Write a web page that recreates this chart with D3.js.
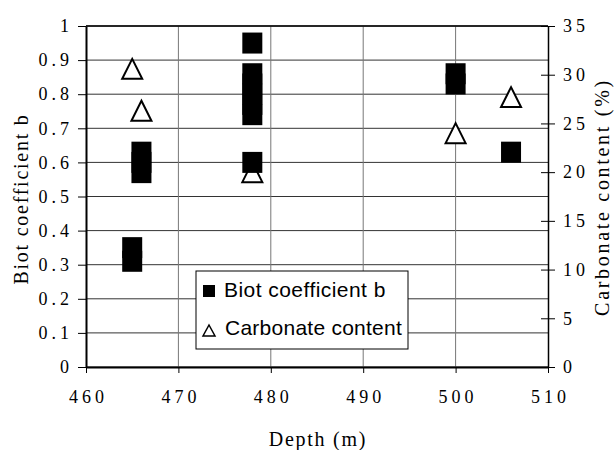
<!DOCTYPE html>
<html>
<head>
<meta charset="utf-8">
<script src="https://cdn.jsdelivr.net/npm/d3@7"></script>
<style>
  body { margin: 0; background: #fff; }
  svg text.serif { font-family: "Liberation Serif", "Times New Roman", serif; }
  svg text.sans { font-family: "Liberation Sans", Arial, sans-serif; }
</style>
</head>
<body>
<div class="chart"></div>
<script>
// Biot coefficient b (left axis) vs depth
var biotDepth = [465, 465, 466, 466, 466, 478, 478, 478, 478, 478, 478, 478, 500, 500, 506];
var biotValue = [0.35, 0.31, 0.63, 0.60, 0.57, 0.95, 0.86, 0.83, 0.80, 0.77, 0.74, 0.60, 0.86, 0.83, 0.63];

// Carbonate content % (right axis) vs depth
var carbDepth = [465, 466, 478, 500, 506];
var carbValue = [30.6, 26.3, 20.0, 24.0, 27.7];

var xTicks = [460, 470, 480, 490, 500, 510];
var yLeftTicks = [0, 0.1, 0.2, 0.3, 0.4, 0.5, 0.6, 0.7, 0.8, 0.9, 1];
var yRightTicks = [0, 5, 10, 15, 20, 25, 30, 35];

var svgWidth = 615, svgHeight = 450;
var margin = { top: 26, right: 67, bottom: 83, left: 86 };
var width = svgWidth - margin.left - margin.right;
var height = svgHeight - margin.top - margin.bottom;

var svg = d3.select(".chart").append("svg")
    .attr("width", svgWidth)
    .attr("height", svgHeight);

var chart = svg.append("g")
    .attr("transform", "translate(" + margin.left + "," + margin.top + ")");

var xScale = d3.scaleLinear().domain([460, 510]).range([0, width]);
var yLeft = d3.scaleLinear().domain([0, 1]).range([height, 0]);
var yRight = d3.scaleLinear().domain([0, 35]).range([height, 0]);

// horizontal grid lines
chart.append("g").selectAll("line")
    .data(yLeftTicks)
    .enter().append("line")
    .attr("x1", 0).attr("x2", width)
    .attr("y1", function(d) { return yLeft(d); })
    .attr("y2", function(d) { return yLeft(d); })
    .attr("stroke", "#333").attr("stroke-width", 1);

// vertical grid lines
chart.append("g").selectAll("line")
    .data(xTicks.slice(1, -1))
    .enter().append("line")
    .attr("x1", function(d) { return xScale(d); })
    .attr("x2", function(d) { return xScale(d); })
    .attr("y1", 0).attr("y2", height)
    .attr("stroke", "#777").attr("stroke-width", 1);

// top border
chart.append("line")
    .attr("x1", 0).attr("x2", width).attr("y1", 0).attr("y2", 0)
    .attr("stroke", "#000").attr("stroke-width", 1.5);

// axes
var bottomAxis = d3.axisBottom(xScale).tickValues(xTicks).tickFormat(d3.format("d"))
    .tickSizeInner(6).tickSizeOuter(0).tickPadding(17);
var leftAxis = d3.axisLeft(yLeft).tickValues(yLeftTicks).tickFormat(function(d) { return String(d); })
    .tickSizeInner(8).tickSizeOuter(0).tickPadding(5);
var rightAxis = d3.axisRight(yRight).tickValues(yRightTicks).tickFormat(d3.format("d"))
    .tickSizeInner(7).tickSizeOuter(0).tickPadding(8);

function styleAxis(g) {
    g.attr("font-family", null).attr("font-size", null);
    g.selectAll(".tick text")
        .attr("class", "serif")
        .style("font-size", "18px")
        .style("letter-spacing", "4px")
        .attr("fill", "#000");
    g.selectAll(".tick line").attr("stroke", "#000");
}

var gx = chart.append("g")
    .attr("transform", "translate(0," + height + ")")
    .call(bottomAxis)
    .call(styleAxis);
gx.select(".domain").attr("stroke-width", 2);
gx.selectAll(".tick text").attr("dx", 2);

var gl = chart.append("g").call(leftAxis).call(styleAxis);
gl.select(".domain").attr("stroke-width", 2);

var gr = chart.append("g")
    .attr("transform", "translate(" + width + ",0)")
    .call(rightAxis)
    .call(styleAxis);
gr.select(".domain").attr("stroke-width", 1.5);
gr.selectAll(".tick line").attr("x1", -7);

// carbonate content triangles (white filled)
chart.append("g").selectAll("path")
    .data(carbDepth)
    .enter().append("path")
    .attr("d", "M0,-10L10,10L-10,10Z")
    .attr("transform", function(d, i) {
        return "translate(" + xScale(d) + "," + yRight(carbValue[i]) + ")";
    })
    .attr("fill", "#fff")
    .attr("stroke", "#000")
    .attr("stroke-width", 2);

// biot coefficient squares
chart.append("g").selectAll("rect")
    .data(biotDepth)
    .enter().append("rect")
    .attr("x", function(d) { return xScale(d) - 10; })
    .attr("y", function(d, i) { return yLeft(biotValue[i]) - 10.5; })
    .attr("width", 20)
    .attr("height", 21)
    .attr("fill", "#000");

// axis titles
svg.append("text")
    .attr("class", "serif")
    .attr("transform", "translate(28,199) rotate(-90)")
    .attr("text-anchor", "middle")
    .style("font-size", "20px")
    .style("letter-spacing", "1.75px")
    .text("Biot coefficient b");

svg.append("text")
    .attr("class", "serif")
    .attr("transform", "translate(609,197) rotate(-90)")
    .attr("text-anchor", "middle")
    .style("font-size", "20px")
    .style("letter-spacing", "2.7px")
    .text("Carbonate content (%)");

svg.append("text")
    .attr("class", "serif")
    .attr("x", margin.left + width / 2 + 1)
    .attr("y", 446)
    .attr("text-anchor", "middle")
    .style("font-size", "20px")
    .style("letter-spacing", "1.75px")
    .text("Depth (m)");

// legend
var legend = svg.append("g").attr("transform", "translate(196,271)");
legend.append("rect")
    .attr("width", 212).attr("height", 78)
    .attr("fill", "#fff").attr("stroke", "#000").attr("stroke-width", 1);
legend.append("rect")
    .attr("x", 7).attr("y", 14).attr("width", 12).attr("height", 12)
    .attr("fill", "#000");
legend.append("path")
    .attr("d", "M13,54L19,65L7,65Z")
    .attr("fill", "#fff").attr("stroke", "#000").attr("stroke-width", 1.5);
legend.append("text")
    .attr("class", "sans")
    .attr("x", 28).attr("y", 26)
    .style("font-size", "21px")
    .style("letter-spacing", "0.45px")
    .text("Biot coefficient b");
legend.append("text")
    .attr("class", "sans")
    .attr("x", 29).attr("y", 64)
    .style("font-size", "21px")
    .style("letter-spacing", "0.25px")
    .text("Carbonate content");
</script>
</body>
</html>
